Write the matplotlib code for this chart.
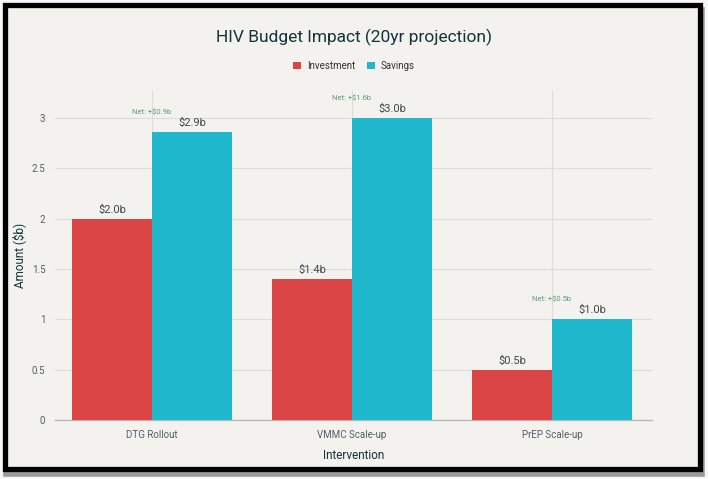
"""HIV budget impact bar chart (20 year projection)."""
import matplotlib
matplotlib.use("Agg")
import matplotlib.pyplot as plt
from matplotlib.patches import Rectangle
import numpy as np

INTERVENTIONS = ["DTG Rollout", "VMMC Scale-up", "PrEP Scale-up"]
INVESTMENT = [2.0, 1.4, 0.5]
SAVINGS = [2.86, 3.0, 1.0]
SAVINGS_LABELS = ["$2.9b", "$3.0b", "$1.0b"]
INVESTMENT_LABELS = ["$2.0b", "$1.4b", "$0.5b"]
NET_LABELS = ["Net: +$0.9b", "Net: +$1.6b", "Net: +$0.5b"]
Y_TICKS = [0, 0.5, 1, 1.5, 2, 2.5, 3]
Y_TICK_LABELS = ["0", "0.5", "1", "1.5", "2", "2.5", "3"]

RED = "#db4545"
CYAN = "#1fb8cd"
BG = "#f3f2ee"
TEXT = "#13343b"
GREEN = "#5a9e77"


def _main() -> None:
    plt.rcParams["font.family"] = ["Roboto", "DejaVu Sans"]
    fig = plt.figure(figsize=(7.08, 4.79), dpi=100, facecolor="#f7f7f7")
    # soft shadow and black frame around the whole picture
    fig.patches.append(Rectangle((0.0085, 0.010), 0.983, 0.9687,
                                 transform=fig.transFigure, facecolor="none",
                                 edgecolor="#9a9a9a", linewidth=4.0,
                                 zorder=-3))
    fig.patches.append(Rectangle((0.0064, 0.0219), 0.983, 0.9687,
                                 transform=fig.transFigure, facecolor=BG,
                                 edgecolor="black", linewidth=3.8, zorder=-2))
    ax = fig.add_axes([0.0777, 0.1232, 0.8433, 0.689])
    ax.set_facecolor(BG)

    x = np.arange(len(INTERVENTIONS))
    width = 0.4
    ax.bar(x - width / 2, INVESTMENT, width, color=RED, label="Investment",
           zorder=3)
    ax.bar(x + width / 2, SAVINGS, width, color=CYAN, label="Savings",
           zorder=3)

    for i in range(len(INTERVENTIONS)):
        ax.text(x[i] - width / 2, INVESTMENT[i] + 0.04, INVESTMENT_LABELS[i],
                ha="center", va="bottom", fontsize=8, color="#3c4a4d",
                zorder=4)
        ax.text(x[i] + width / 2, SAVINGS[i] + 0.04, SAVINGS_LABELS[i],
                ha="center", va="bottom", fontsize=8, color="#3c4a4d",
                zorder=4)
        top = max(INVESTMENT[i], SAVINGS[i])
        ax.text(x[i], top + 0.2, NET_LABELS[i], ha="center", va="center",
                fontsize=5.5, color=GREEN, zorder=4)

    ax.set_xlim(-0.485, 2.5)
    ax.set_ylim(0, 3.28)
    ax.set_xticks(x)
    ax.set_xticklabels(INTERVENTIONS)
    ax.set_yticks(Y_TICKS)
    ax.set_yticklabels(Y_TICK_LABELS)
    ax.tick_params(length=0, labelsize=7, colors="#555f61", pad=7)
    ax.grid(True, color="#dddcd8", linewidth=0.8, zorder=0)
    for side in ["top", "right", "left"]:
        ax.spines[side].set_visible(False)
    ax.spines["bottom"].set_color("#b8b8b5")
    ax.spines["bottom"].set_linewidth(1.0)

    ax.set_xlabel("Intervention", fontsize=8.5, color=TEXT, labelpad=7)
    ax.set_ylabel("Amount ($b)", fontsize=8.5, color=TEXT, labelpad=4)

    fig.text(0.5, 0.922, "HIV Budget Impact (20yr projection)", ha="center",
             va="center", fontsize=12.5, color=TEXT)
    fig.legend(loc="center", bbox_to_anchor=(0.5, 0.862), ncol=2,
               frameon=False, fontsize=7, handlelength=0.8, handleheight=0.8,
               columnspacing=1.2, handletextpad=0.6, labelcolor="#333")

    fig.savefig("out.png", dpi=100, facecolor=fig.get_facecolor())


if __name__ == "__main__":
    _main()
